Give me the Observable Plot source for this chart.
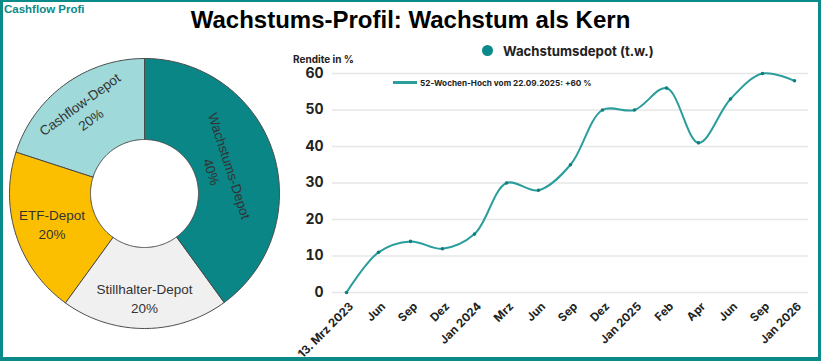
<!DOCTYPE html>
<html><head><meta charset="utf-8">
<script src="https://cdn.jsdelivr.net/npm/d3@7"></script>
<script src="https://cdn.jsdelivr.net/npm/@observablehq/plot@0.6"></script>
<style>
html,body{margin:0;padding:0;background:#fff;}
#root{position:relative;width:821px;height:361px;overflow:hidden;background:#fff;font-family:Inter,"Noto Sans",sans-serif;}
#frame{position:absolute;left:0;top:0;width:821px;height:361px;box-sizing:border-box;border-style:solid;border-color:#0b8a8a;border-width:2px 3px 4px 3px;pointer-events:none;z-index:5}
.abs{position:absolute;white-space:nowrap;line-height:1;}
#brand{left:4px;top:3px;font:bold 11.5px "Liberation Sans",Arial,sans-serif;color:#0b8a8a;}
#title{left:0;width:821px;top:6px;text-align:center;font:bold 24px "Liberation Sans",Arial,sans-serif;color:#000;}
#ylabel{left:293px;top:53px;font:700 10px Inter,sans-serif;color:#222;}
#legdot{left:482px;top:45px;width:11px;height:11px;border-radius:50%;background:#0b8a8a;}
#legtext{left:503px;top:43px;font:700 13.2px Inter,sans-serif;color:#222;}
#swatch{left:393px;top:81px;width:24px;height:3px;background:#2a9d9d;}
#swtext{left:420px;top:78px;font:700 8.2px Inter,sans-serif;color:#222;}
#donut{position:absolute;left:0;top:0;}
#line{position:absolute;left:280px;top:0;}
</style>
</head><body>
<div id="root">
  <div id="donut"></div>
  <div id="line"></div>
  <div class="abs" id="brand">Cashflow Profi</div>
  <div class="abs" id="title">Wachstums-Profil: Wachstum als Kern</div>
  <div class="abs" id="ylabel">Rendite in %</div>
  <div class="abs" id="legdot"></div>
  <div class="abs" id="legtext">Wachstumsdepot (t.w.)</div>
  <div class="abs" id="swatch"></div>
  <div class="abs" id="swtext">52-Wochen-Hoch vom 22.09.2025: +60 %</div>
  <div id="frame"></div>
</div>
<script>
// ---- data ----
const depotNames = ["Wachstums-Depot", "Stillhalter-Depot", "ETF-Depot", "Cashflow-Depot"];
const depotShares = [40, 20, 20, 20];
const depotColors = ["#0a8686", "#f0f0f0", "#fcbf00", "#9fd9d9"];

const periodLabels = ["13. Mrz 2023", "Jun", "Sep", "Dez", "Jan 2024", "Mrz", "Jun", "Sep", "Dez", "Jan 2025", "Feb", "Apr", "Jun", "Sep", "Jan 2026"];
const returns = [0, 11, 14, 12, 16, 30, 28, 35, 50, 50, 56, 41, 53, 60, 58];
const yTicks = [0, 10, 20, 30, 40, 50, 60];

// ---- donut ----
const labelStyle = [
  {tangential: true, r: 0.6},
  {tangential: false, r: 0.77},
  {tangential: false, r: 0.72},
  {tangential: true, r: 0.755}
];
const innerR = 54 / 135;
const slices = depotNames.map((name, i) => ({name, share: depotShares[i]}));
const arcs = d3.pie().sort(null).value(d => d.share)(slices);
const ringPts = [];
arcs.forEach(a => {
  const n = Math.max(2, Math.ceil((a.endAngle - a.startAngle) / (Math.PI / 180)));
  for (let k = 0; k <= n; k++) {
    const t = a.startAngle + (a.endAngle - a.startAngle) * k / n;
    ringPts.push({name: a.data.name, x: Math.sin(t), y: Math.cos(t)});
  }
  for (let k = n; k >= 0; k--) {
    const t = a.startAngle + (a.endAngle - a.startAngle) * k / n;
    ringPts.push({name: a.data.name, x: innerR * Math.sin(t), y: innerR * Math.cos(t)});
  }
});
const labels = arcs.map((a, i) => {
  const mid = (a.startAngle + a.endAngle) / 2;
  const deg = mid * 180 / Math.PI;
  const st = labelStyle[i];
  return {
    x: st.r * Math.sin(mid),
    y: st.r * Math.cos(mid),
    text: `${a.data.name}\n${a.data.share}%`,
    rotate: st.tangential ? (((deg + 90) % 180) + 180) % 180 - 90 : 0
  };
});
const W = 290, H = 361, cx = 144, cy = 193, R = 135;
const donut = Plot.plot({
  width: W, height: H, margin: 0,
  style: {background: "transparent", overflow: "visible"},
  x: {domain: [-cx / R, (W - cx) / R], axis: null},
  y: {domain: [-(H - cy) / R, cy / R], axis: null},
  color: {domain: depotNames, range: depotColors},
  marks: [
    Plot.line(ringPts, {x: "x", y: "y", z: "name", fill: "name", stroke: "#4a4a4a", strokeWidth: 1, curve: "linear-closed"}),
    Plot.text(labels, {x: "x", y: "y", text: "text", rotate: "rotate", fontSize: 13.5, lineHeight: 1.4, fill: "#333", fontFamily: "'Liberation Sans', Arial, sans-serif", textAnchor: "middle", lineAnchor: "middle"})
  ]
});
document.getElementById("donut").appendChild(donut);

// ---- line chart ----
const table = returns.map((v, i) => ({i, v, label: periodLabels[i]}));
const chart = Plot.plot({
  width: 541, height: 361,
  marginLeft: 52, marginRight: 13, marginTop: 73, marginBottom: 69,
  style: {fontFamily: "Inter, sans-serif", background: "transparent", color: "#222", overflow: "visible"},
  x: {type: "point", domain: d3.range(returns.length), padding: 0.4, axis: null},
  y: {domain: [0, 60], axis: null},
  marks: [
    Plot.ruleY(yTicks, {stroke: "#e6e6e6", strokeWidth: 1.5}),
    Plot.axisY(yTicks, {tickSize: 0, tickPadding: 9, fontSize: 14, fontWeight: 700, label: null, fill: "#222"}),
    Plot.line(table, {x: "i", y: "v", curve: "catmull-rom", stroke: "#2a9d9d", strokeWidth: 2}),
    Plot.dot(table, {x: "i", y: "v", r: 1.8, fill: "#137d7d"}),
    Plot.text(table, {x: "i", text: "label", frameAnchor: "bottom", rotate: -45, textAnchor: "end", lineAnchor: "middle", dx: 5, dy: 12, fontSize: 11.5, fontWeight: 700, fill: "#222"})
  ]
});
document.getElementById("line").appendChild(chart);
</script>
</body></html>
